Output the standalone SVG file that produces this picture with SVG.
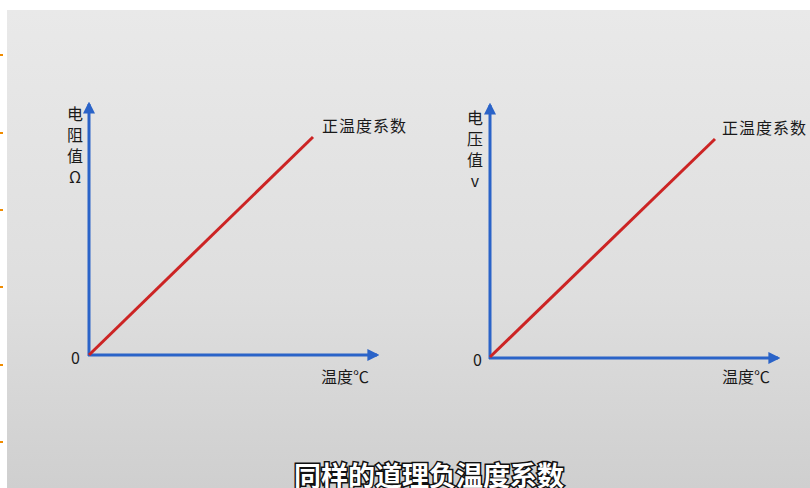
<svg xmlns="http://www.w3.org/2000/svg" width="810" height="488" viewBox="0 0 810 488">
<defs>
<linearGradient id="bg" x1="0" y1="0" x2="0" y2="1">
<stop offset="0" stop-color="#e9e9e9"/>
<stop offset="0.6" stop-color="#dedede"/>
<stop offset="1" stop-color="#cfcfcf"/>
</linearGradient>
<marker id="arr" viewBox="0 0 10 10" refX="8" refY="5" markerWidth="4" markerHeight="4" orient="auto" markerUnits="strokeWidth">
<path d="M0,0 L10,5 L0,10 z" fill="#2a63c8"/>
</marker>
</defs>
<style>
.axis{stroke:#2a63c8;stroke-width:3;fill:none}
.curve{stroke:#cc2424;stroke-width:3;fill:none}
.t{font-family:"Noto Sans CJK SC","Noto Sans",sans-serif;fill:#1a1a1a;font-size:16px}
.v{writing-mode:vertical-rl;text-orientation:upright;letter-spacing:5px}
.tick{stroke:#f08c00;stroke-width:2}
.sub{font-family:"Noto Sans CJK SC",sans-serif;font-size:27px;font-weight:bold;fill:#fff;stroke:#111;stroke-width:3;paint-order:stroke}
</style>
<rect width="810" height="488" fill="#ffffff"/>
<rect x="7" y="10" width="803" height="478" fill="url(#bg)"/>
<g id="ticks">
<line class="tick" x1="0" y1="55" x2="3" y2="55"/>
<line class="tick" x1="0" y1="133" x2="3" y2="133"/>
<line class="tick" x1="0" y1="210" x2="3" y2="210"/>
<line class="tick" x1="0" y1="287" x2="3" y2="287"/>
<line class="tick" x1="0" y1="365" x2="3" y2="365"/>
<line class="tick" x1="0" y1="442" x2="3" y2="442"/>
</g>
<g id="connectors">
<line class="axis" x1="89" y1="356" x2="89" y2="104" marker-end="url(#arr)"/>
<line class="axis" x1="88" y1="355" x2="377" y2="355" marker-end="url(#arr)"/>
<line class="curve" x1="89" y1="355" x2="313" y2="137"/>
<line class="axis" x1="490" y1="359" x2="490" y2="105" marker-end="url(#arr)"/>
<line class="axis" x1="489" y1="358" x2="778" y2="358" marker-end="url(#arr)"/>
<line class="curve" x1="490" y1="357" x2="715" y2="139"/>
</g>
<g id="chart1-labels">
<text class="t v" x="75" y="106">电阻值Ω</text>
<text class="t" x="71" y="364">0</text>
<text class="t" x="322" y="132" letter-spacing="1">正温度系数</text>
<text class="t" x="321" y="383">温度℃</text>
</g>
<g id="chart2-labels">
<text class="t v" x="475" y="110">电压值v</text>
<text class="t" x="473" y="366">0</text>
<text class="t" x="722" y="134" letter-spacing="1">正温度系数</text>
<text class="t" x="722" y="383">温度℃</text>
</g>
<text class="sub" x="294" y="486">同样的道理负温度系数</text>
</svg>
